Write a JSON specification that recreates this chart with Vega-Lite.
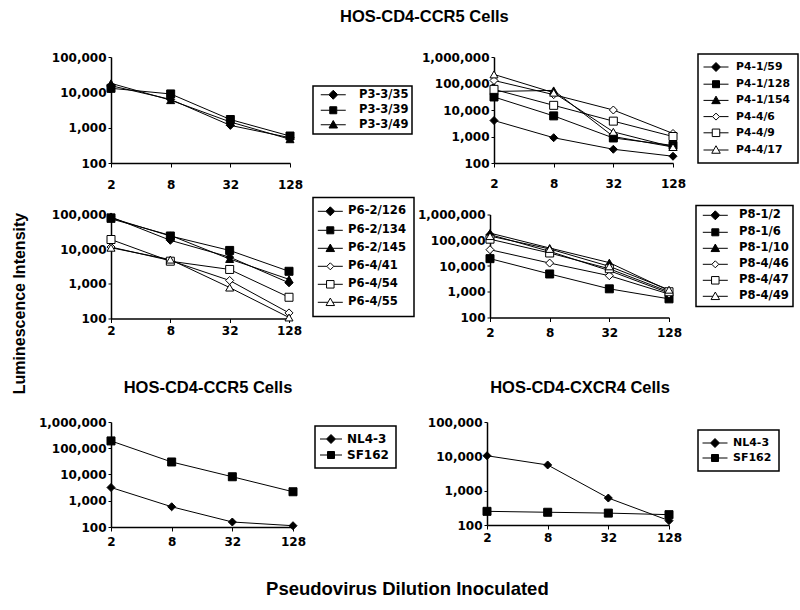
{
  "$schema": "https://vega.github.io/schema/vega-lite/v6.json",
  "background": "white",
  "padding": {"left": 12, "top": 8, "right": 5, "bottom": 5},
  "title": {"text": "Luminescence Intensity", "orient": "left", "anchor": "middle", "fontSize": 16, "offset": 7.6},
  "resolve": {"scale": {"shape": "independent", "fill": "independent"}, "legend": {"shape": "independent", "fill": "independent"}},
  "vconcat": [
    {
      "title": {"text": "Pseudovirus Dilution Inoculated", "orient": "bottom", "anchor": "middle", "fontSize": 18.5, "offset": 33, "dx": -10},
      "spacing": 40,
      "resolve": {"scale": {"shape": "independent", "fill": "independent"}, "legend": {"shape": "independent", "fill": "independent"}},
      "vconcat": [
        {
          "title": {"text": "HOS-CD4-CCR5 Cells", "anchor": "middle", "offset": 26, "dx": 7},
          "spacing": 6.5,
          "resolve": {"scale": {"shape": "independent", "fill": "independent"}, "legend": {"shape": "independent", "fill": "independent"}},
          "vconcat": [
            {
              "bounds": "flush",
              "spacing": 204,
              "resolve": {"scale": {"shape": "independent", "fill": "independent"}, "legend": {"shape": "independent", "fill": "independent"}},
              "hconcat": [
                {
                  "data": {"name": "a"},
                  "width": 179, "height": 106,
                  "encoding": {
                    "x": {"field": "d", "type": "quantitative", "scale": {"type": "log", "base": 2, "domain": [2, 128], "nice": false}, "axis": {"values": [2, 8, 32, 128], "format": "d", "title": null, "labelPadding": 12, "labelFlush": false}},
                    "y": {"field": "v", "type": "quantitative", "scale": {"type": "log", "domain": [100, 100000], "nice": false}, "axis": {"values": [100, 1000, 10000, 100000], "format": ",", "title": null}}
                  },
                  "layer": [
                    {"mark": {"type": "line", "color": "black", "strokeWidth": 1}, "encoding": {"detail": {"field": "s"}}},
                    {"mark": {"type": "point", "size": 64, "stroke": "black", "strokeWidth": 1, "opacity": 1},
                     "encoding": {
                       "shape": {"field": "s", "type": "nominal", "sort": ["P3-3/35", "P3-3/39", "P3-3/49"], "scale": {"range": ["diamond", "square", "triangle-up"]}, "legend": null},
                       "fill": {"field": "s", "type": "nominal", "scale": {"domain": ["P3-3/35", "P3-3/39", "P3-3/49"], "range": ["black", "black", "black"]},
                         "legend": {"orient": "none", "legendX": 202, "legendY": 29, "title": null, "padding": 3, "rowPadding": 1.5, "labelFontSize": 11.5, "symbolOffset": 11.5, "labelOffset": 20,
                           "symbolType": {"expr": "['M-2.5,0H-0.9M0.9,0H2.5M0,-0.9L0.9,0L0,0.9L-0.9,0Z','M-2.5,0H-0.7M0.7,0H2.5M-0.7,-0.7H0.7V0.7H-0.7Z','M-2.5,0H-0.48M0.48,0H2.5M0,-0.85L0.85,0.65H-0.85Z'][indexof(['P3-3/35','P3-3/39','P3-3/49'], datum.value)]"},
                           "encode": {"symbols": {"stroke": {"value": "black"}, "strokeWidth": {"value": 1}, "opacity": {"value": 1}}}}}
                     }}
                  ]
                },
                {
                  "data": {"name": "b"},
                  "width": 179, "height": 106,
                  "encoding": {
                    "x": {"field": "d", "type": "quantitative", "scale": {"type": "log", "base": 2, "domain": [2, 128], "nice": false}, "axis": {"values": [2, 8, 32, 128], "format": "d", "title": null, "labelPadding": 11, "labelFlush": false}},
                    "y": {"field": "v", "type": "quantitative", "scale": {"type": "log", "domain": [100, 1000000], "nice": false}, "axis": {"values": [100, 1000, 10000, 100000, 1000000], "format": ",", "title": null}}
                  },
                  "layer": [
                    {"mark": {"type": "line", "color": "black", "strokeWidth": 1}, "encoding": {"detail": {"field": "s"}}},
                    {"mark": {"type": "point", "size": 64, "stroke": "black", "strokeWidth": 1, "opacity": 1},
                     "encoding": {
                       "shape": {"field": "s", "type": "nominal", "sort": ["P4-1/59", "P4-1/128", "P4-1/154", "P4-4/6", "P4-4/9", "P4-4/17"], "scale": {"range": ["diamond", "square", "triangle-up", "diamond", "square", "triangle-up"]}, "legend": null},
                       "fill": {"field": "s", "type": "nominal", "scale": {"domain": ["P4-1/59", "P4-1/128", "P4-1/154", "P4-4/6", "P4-4/9", "P4-4/17"], "range": ["black", "black", "black", "white", "white", "white"]},
                         "legend": {"orient": "none", "legendX": 204, "legendY": -3, "title": null, "padding": 7.5, "rowPadding": 4.2, "labelFontSize": 10.8, "symbolOffset": 5, "labelOffset": 14.5,
                           "symbolType": {"expr": "['M-2.5,0H-0.9M0.9,0H2.5M0,-0.9L0.9,0L0,0.9L-0.9,0Z','M-2.5,0H-0.7M0.7,0H2.5M-0.7,-0.7H0.7V0.7H-0.7Z','M-2.5,0H-0.48M0.48,0H2.5M0,-0.85L0.85,0.65H-0.85Z','M-2.5,0H-0.7M0.7,0H2.5M0,-0.7L0.7,0L0,0.7L-0.7,0Z','M-2.5,0H-0.75M0.75,0H2.5M-0.75,-0.75H0.75V0.75H-0.75Z','M-2.5,0H-0.48M0.48,0H2.5M0,-0.85L0.85,0.65H-0.85Z'][indexof(['P4-1/59','P4-1/128','P4-1/154','P4-4/6','P4-4/9','P4-4/17'], datum.value)]"},
                           "encode": {"symbols": {"stroke": {"value": "black"}, "strokeWidth": {"value": 1}, "opacity": {"value": 1}}}}}
                     }}
                  ]
                }
              ]
            },
            {
              "bounds": "flush",
              "spacing": 201,
              "resolve": {"scale": {"shape": "independent", "fill": "independent"}, "legend": {"shape": "independent", "fill": "independent"}},
              "hconcat": [
                {
                  "data": {"name": "c"},
                  "width": 178, "height": 104,
                  "encoding": {
                    "x": {"field": "d", "type": "quantitative", "scale": {"type": "log", "base": 2, "domain": [2, 128], "nice": false}, "axis": {"values": [2, 8, 32, 128], "format": "d", "title": null, "labelPadding": 3, "labelFlush": false}},
                    "y": {"field": "v", "type": "quantitative", "scale": {"type": "log", "domain": [100, 100000], "nice": false}, "axis": {"values": [100, 1000, 10000, 100000], "format": ",", "title": null}}
                  },
                  "layer": [
                    {"mark": {"type": "line", "color": "black", "strokeWidth": 1}, "encoding": {"detail": {"field": "s"}}},
                    {"mark": {"type": "point", "size": 64, "stroke": "black", "strokeWidth": 1, "opacity": 1},
                     "encoding": {
                       "shape": {"field": "s", "type": "nominal", "sort": ["P6-2/126", "P6-2/134", "P6-2/145", "P6-4/41", "P6-4/54", "P6-4/55"], "scale": {"range": ["diamond", "square", "triangle-up", "diamond", "square", "triangle-up"]}, "legend": null},
                       "fill": {"field": "s", "type": "nominal", "scale": {"domain": ["P6-2/126", "P6-2/134", "P6-2/145", "P6-4/41", "P6-4/54", "P6-4/55"], "range": ["black", "black", "black", "white", "white", "white"]},
                         "legend": {"orient": "none", "legendX": 202, "legendY": -17, "title": null, "padding": 8, "rowPadding": 5, "labelFontSize": 11.6, "symbolOffset": 3.5, "labelOffset": 12,
                           "symbolType": {"expr": "['M-2.5,0H-0.9M0.9,0H2.5M0,-0.9L0.9,0L0,0.9L-0.9,0Z','M-2.5,0H-0.7M0.7,0H2.5M-0.7,-0.7H0.7V0.7H-0.7Z','M-2.5,0H-0.48M0.48,0H2.5M0,-0.85L0.85,0.65H-0.85Z','M-2.5,0H-0.7M0.7,0H2.5M0,-0.7L0.7,0L0,0.7L-0.7,0Z','M-2.5,0H-0.75M0.75,0H2.5M-0.75,-0.75H0.75V0.75H-0.75Z','M-2.5,0H-0.48M0.48,0H2.5M0,-0.85L0.85,0.65H-0.85Z'][indexof(['P6-2/126','P6-2/134','P6-2/145','P6-4/41','P6-4/54','P6-4/55'], datum.value)]"},
                           "encode": {"symbols": {"stroke": {"value": "black"}, "strokeWidth": {"value": 1}, "opacity": {"value": 1}}}}}
                     }}
                  ]
                },
                {
                  "data": {"name": "d"},
                  "width": 179, "height": 103,
                  "encoding": {
                    "x": {"field": "d", "type": "quantitative", "scale": {"type": "log", "base": 2, "domain": [2, 128], "nice": false}, "axis": {"values": [2, 8, 32, 128], "format": "d", "title": null, "labelPadding": 6, "labelFlush": false}},
                    "y": {"field": "v", "type": "quantitative", "scale": {"type": "log", "domain": [100, 1000000], "nice": false}, "axis": {"values": [100, 1000, 10000, 100000, 1000000], "format": ",", "title": null}}
                  },
                  "layer": [
                    {"mark": {"type": "line", "color": "black", "strokeWidth": 1}, "encoding": {"detail": {"field": "s"}}},
                    {"mark": {"type": "point", "size": 64, "stroke": "black", "strokeWidth": 1, "opacity": 1},
                     "encoding": {
                       "shape": {"field": "s", "type": "nominal", "sort": ["P8-1/2", "P8-1/6", "P8-1/10", "P8-4/46", "P8-4/47", "P8-4/49"], "scale": {"range": ["diamond", "square", "triangle-up", "diamond", "square", "triangle-up"]}, "legend": null},
                       "fill": {"field": "s", "type": "nominal", "scale": {"domain": ["P8-1/2", "P8-1/6", "P8-1/10", "P8-4/46", "P8-4/47", "P8-4/49"], "range": ["black", "black", "black", "white", "white", "white"]},
                         "legend": {"orient": "none", "legendX": 206, "legendY": -9, "title": null, "padding": 4, "rowPadding": 3, "labelFontSize": 11.6, "symbolOffset": 9.5, "labelOffset": 18,
                           "symbolType": {"expr": "['M-2.5,0H-0.9M0.9,0H2.5M0,-0.9L0.9,0L0,0.9L-0.9,0Z','M-2.5,0H-0.7M0.7,0H2.5M-0.7,-0.7H0.7V0.7H-0.7Z','M-2.5,0H-0.48M0.48,0H2.5M0,-0.85L0.85,0.65H-0.85Z','M-2.5,0H-0.7M0.7,0H2.5M0,-0.7L0.7,0L0,0.7L-0.7,0Z','M-2.5,0H-0.75M0.75,0H2.5M-0.75,-0.75H0.75V0.75H-0.75Z','M-2.5,0H-0.48M0.48,0H2.5M0,-0.85L0.85,0.65H-0.85Z'][indexof(['P8-1/2','P8-1/6','P8-1/10','P8-4/46','P8-4/47','P8-4/49'], datum.value)]"},
                           "encode": {"symbols": {"stroke": {"value": "black"}, "strokeWidth": {"value": 1}, "opacity": {"value": 1}}}}}
                     }}
                  ]
                }
              ]
            }
          ]
        },
        {
          "bounds": "flush",
          "spacing": 194,
          "resolve": {"scale": {"shape": "independent", "fill": "independent"}, "legend": {"shape": "independent", "fill": "independent"}},
          "hconcat": [
            {
              "data": {"name": "e"},
              "title": {"text": "HOS-CD4-CCR5 Cells", "anchor": "middle", "frame": "group", "offset": 20, "dx": 6},
              "width": 182, "height": 105,
              "encoding": {
                "x": {"field": "d", "type": "quantitative", "scale": {"type": "log", "base": 2, "domain": [2, 128], "nice": false}, "axis": {"values": [2, 8, 32, 128], "format": "d", "title": null, "labelPadding": 5, "labelFlush": false}},
                "y": {"field": "v", "type": "quantitative", "scale": {"type": "log", "domain": [100, 1000000], "nice": false}, "axis": {"values": [100, 1000, 10000, 100000, 1000000], "format": ",", "title": null}}
              },
              "layer": [
                {"mark": {"type": "line", "color": "black", "strokeWidth": 1}, "encoding": {"detail": {"field": "s"}}},
                {"mark": {"type": "point", "size": 64, "stroke": "black", "strokeWidth": 1, "opacity": 1},
                 "encoding": {
                   "shape": {"field": "s", "type": "nominal", "sort": ["NL4-3", "SF162"], "scale": {"range": ["diamond", "square"]}, "legend": null},
                   "fill": {"field": "s", "type": "nominal", "scale": {"domain": ["NL4-3", "SF162"], "range": ["black", "black"]},
                     "legend": {"orient": "none", "legendX": 204, "legendY": 4, "title": null, "padding": 7, "rowPadding": 3, "labelFontSize": 12, "symbolOffset": 3, "labelOffset": 10,
                       "symbolType": {"expr": "['M-2.2,0H-0.9M0.9,0H2.2M0,-0.9L0.9,0L0,0.9L-0.9,0Z','M-2.2,0H-0.7M0.7,0H2.2M-0.7,-0.7H0.7V0.7H-0.7Z'][indexof(['NL4-3','SF162'], datum.value)]"},
                       "encode": {"symbols": {"stroke": {"value": "black"}, "strokeWidth": {"value": 1}, "opacity": {"value": 1}}}}}
                 }}
              ]
            },
            {
              "data": {"name": "f"},
              "title": {"text": "HOS-CD4-CXCR4 Cells", "anchor": "middle", "frame": "group", "offset": 20, "dx": 2},
              "width": 182, "height": 103,
              "encoding": {
                "x": {"field": "d", "type": "quantitative", "scale": {"type": "log", "base": 2, "domain": [2, 128], "nice": false}, "axis": {"values": [2, 8, 32, 128], "format": "d", "title": null, "labelPadding": 3, "labelFlush": false}},
                "y": {"field": "v", "type": "quantitative", "scale": {"type": "log", "domain": [100, 100000], "nice": false}, "axis": {"values": [100, 1000, 10000, 100000], "format": ",", "title": null}}
              },
              "layer": [
                {"mark": {"type": "line", "color": "black", "strokeWidth": 1}, "encoding": {"detail": {"field": "s"}}},
                {"mark": {"type": "point", "size": 64, "stroke": "black", "strokeWidth": 1, "opacity": 1},
                 "encoding": {
                   "shape": {"field": "s", "type": "nominal", "sort": ["NL4-3", "SF162"], "scale": {"range": ["diamond", "square"]}, "legend": null},
                   "fill": {"field": "s", "type": "nominal", "scale": {"domain": ["NL4-3", "SF162"], "range": ["black", "black"]},
                     "legend": {"orient": "none", "legendX": 211, "legendY": 8, "title": null, "padding": 7.5, "rowPadding": 2, "labelFontSize": 11, "symbolOffset": 4, "labelOffset": 12.5,
                       "symbolType": {"expr": "['M-2.5,0H-0.9M0.9,0H2.5M0,-0.9L0.9,0L0,0.9L-0.9,0Z','M-2.5,0H-0.7M0.7,0H2.5M-0.7,-0.7H0.7V0.7H-0.7Z'][indexof(['NL4-3','SF162'], datum.value)]"},
                       "encode": {"symbols": {"stroke": {"value": "black"}, "strokeWidth": {"value": 1}, "opacity": {"value": 1}}}}}
                 }}
              ]
            }
          ]
        }
      ]
    }
  ],
  "datasets": {
    "a": [
      {"s": "P3-3/35", "d": 2, "v": 15400}, {"s": "P3-3/35", "d": 8, "v": 6300}, {"s": "P3-3/35", "d": 32, "v": 1160}, {"s": "P3-3/35", "d": 128, "v": 520},
      {"s": "P3-3/39", "d": 2, "v": 13000}, {"s": "P3-3/39", "d": 8, "v": 9000}, {"s": "P3-3/39", "d": 32, "v": 1700}, {"s": "P3-3/39", "d": 128, "v": 580},
      {"s": "P3-3/49", "d": 2, "v": 18000}, {"s": "P3-3/49", "d": 8, "v": 6000}, {"s": "P3-3/49", "d": 32, "v": 1450}, {"s": "P3-3/49", "d": 128, "v": 470}
    ],
    "b": [
      {"s": "P4-1/59", "d": 2, "v": 4000}, {"s": "P4-1/59", "d": 8, "v": 900}, {"s": "P4-1/59", "d": 32, "v": 330}, {"s": "P4-1/59", "d": 128, "v": 180},
      {"s": "P4-1/128", "d": 2, "v": 31000}, {"s": "P4-1/128", "d": 8, "v": 6000}, {"s": "P4-1/128", "d": 32, "v": 880}, {"s": "P4-1/128", "d": 128, "v": 460},
      {"s": "P4-1/154", "d": 2, "v": 50000}, {"s": "P4-1/154", "d": 8, "v": 55000}, {"s": "P4-1/154", "d": 32, "v": 1000}, {"s": "P4-1/154", "d": 128, "v": 400},
      {"s": "P4-4/6", "d": 2, "v": 130000}, {"s": "P4-4/6", "d": 8, "v": 38000}, {"s": "P4-4/6", "d": 32, "v": 10000}, {"s": "P4-4/6", "d": 128, "v": 1300},
      {"s": "P4-4/9", "d": 2, "v": 60000}, {"s": "P4-4/9", "d": 8, "v": 15000}, {"s": "P4-4/9", "d": 32, "v": 3800}, {"s": "P4-4/9", "d": 128, "v": 1000},
      {"s": "P4-4/17", "d": 2, "v": 220000}, {"s": "P4-4/17", "d": 8, "v": 45000}, {"s": "P4-4/17", "d": 32, "v": 1500}, {"s": "P4-4/17", "d": 128, "v": 400}
    ],
    "c": [
      {"s": "P6-2/126", "d": 2, "v": 85000}, {"s": "P6-2/126", "d": 8, "v": 18000}, {"s": "P6-2/126", "d": 32, "v": 5900}, {"s": "P6-2/126", "d": 128, "v": 1070},
      {"s": "P6-2/134", "d": 2, "v": 80000}, {"s": "P6-2/134", "d": 8, "v": 24000}, {"s": "P6-2/134", "d": 32, "v": 9200}, {"s": "P6-2/134", "d": 128, "v": 2300},
      {"s": "P6-2/145", "d": 2, "v": 75000}, {"s": "P6-2/145", "d": 8, "v": 25000}, {"s": "P6-2/145", "d": 32, "v": 5200}, {"s": "P6-2/145", "d": 128, "v": 1350},
      {"s": "P6-4/41", "d": 2, "v": 11500}, {"s": "P6-4/41", "d": 8, "v": 4700}, {"s": "P6-4/41", "d": 32, "v": 1250}, {"s": "P6-4/41", "d": 128, "v": 145},
      {"s": "P6-4/54", "d": 2, "v": 19000}, {"s": "P6-4/54", "d": 8, "v": 4500}, {"s": "P6-4/54", "d": 32, "v": 2600}, {"s": "P6-4/54", "d": 128, "v": 410},
      {"s": "P6-4/55", "d": 2, "v": 11000}, {"s": "P6-4/55", "d": 8, "v": 5000}, {"s": "P6-4/55", "d": 32, "v": 780}, {"s": "P6-4/55", "d": 128, "v": 107}
    ],
    "d": [
      {"s": "P8-1/2", "d": 2, "v": 166000}, {"s": "P8-1/2", "d": 8, "v": 37000}, {"s": "P8-1/2", "d": 32, "v": 6600}, {"s": "P8-1/2", "d": 128, "v": 890},
      {"s": "P8-1/6", "d": 2, "v": 19300}, {"s": "P8-1/6", "d": 8, "v": 4900}, {"s": "P8-1/6", "d": 32, "v": 1300}, {"s": "P8-1/6", "d": 128, "v": 530},
      {"s": "P8-1/10", "d": 2, "v": 190000}, {"s": "P8-1/10", "d": 8, "v": 50000}, {"s": "P8-1/10", "d": 32, "v": 13500}, {"s": "P8-1/10", "d": 128, "v": 1100},
      {"s": "P8-4/46", "d": 2, "v": 43000}, {"s": "P8-4/46", "d": 8, "v": 13000}, {"s": "P8-4/46", "d": 32, "v": 4200}, {"s": "P8-4/46", "d": 128, "v": 810},
      {"s": "P8-4/47", "d": 2, "v": 110000}, {"s": "P8-4/47", "d": 8, "v": 32000}, {"s": "P8-4/47", "d": 32, "v": 7800}, {"s": "P8-4/47", "d": 128, "v": 1000},
      {"s": "P8-4/49", "d": 2, "v": 145000}, {"s": "P8-4/49", "d": 8, "v": 46000}, {"s": "P8-4/49", "d": 32, "v": 9700}, {"s": "P8-4/49", "d": 128, "v": 1200}
    ],
    "e": [
      {"s": "NL4-3", "d": 2, "v": 3200}, {"s": "NL4-3", "d": 8, "v": 590}, {"s": "NL4-3", "d": 32, "v": 155}, {"s": "NL4-3", "d": 128, "v": 112},
      {"s": "SF162", "d": 2, "v": 190000}, {"s": "SF162", "d": 8, "v": 30000}, {"s": "SF162", "d": 32, "v": 8200}, {"s": "SF162", "d": 128, "v": 2200}
    ],
    "f": [
      {"s": "NL4-3", "d": 2, "v": 10400}, {"s": "NL4-3", "d": 8, "v": 5600}, {"s": "NL4-3", "d": 32, "v": 610}, {"s": "NL4-3", "d": 128, "v": 134},
      {"s": "SF162", "d": 2, "v": 250}, {"s": "SF162", "d": 8, "v": 235}, {"s": "SF162", "d": 32, "v": 222}, {"s": "SF162", "d": 128, "v": 200}
    ]
  },
  "config": {
    "view": {"stroke": null},
    "font": "Liberation Sans",
    "title": {"font": "Liberation Sans", "fontWeight": "bold", "fontSize": 16.5, "color": "black"},
    "axis": {"labelFont": "DejaVu Sans", "labelFontWeight": "bold", "labelFontSize": 12, "labelColor": "black", "domainColor": "black", "tickColor": "black", "domainWidth": 1.5, "tickWidth": 1, "tickSize": 4, "grid": false},
    "axisY": {"labelPadding": 2, "tickSize": 3, "minExtent": 75, "maxExtent": 75},
    "legend": {"labelFont": "DejaVu Sans", "labelFontWeight": "bold", "labelColor": "black", "strokeColor": "black", "strokeWidth": 1.5, "symbolSize": 100, "symbolStrokeWidth": 1}
  }
}
